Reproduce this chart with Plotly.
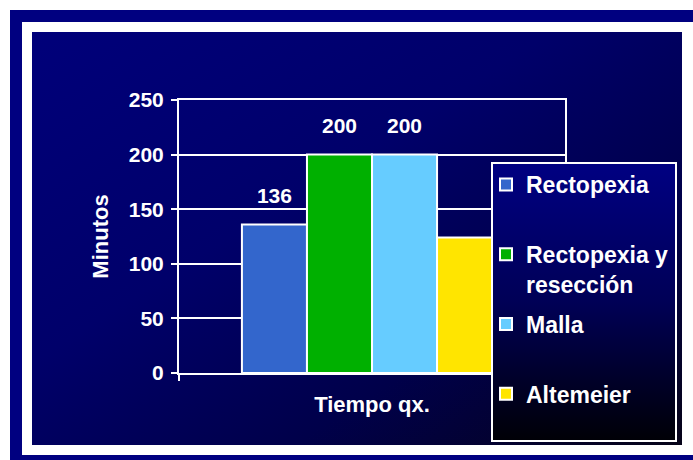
import base64
import plotly.graph_objects as go

# Surgical time by technique (minutes)
category = ["Tiempo qx."]
techniques = ["Rectopexia", "Rectopexia y resección", "Malla", "Altemeier"]
legend_names = ["Rectopexia<br>\u00a0", "Rectopexia y<br>resección", "Malla<br>\u00a0", "Altemeier"]
minutes = [136, 200, 200, 124]
show_label = [True, True, True, False]
colors = ["#3366cc", "#00b000", "#66ccff", "#ffe500"]
y_ticks = [0, 50, 100, 150, 200, 250]

W, H = 693, 460
L, R, T, B = 179, 128, 100, 87
PW, PH = W - L - R, H - T - B

FONT = "Arial, 'Liberation Sans', sans-serif"


def svg_uri(svg):
    return "data:image/svg+xml;base64," + base64.b64encode(svg.encode("utf-8")).decode("ascii")


# slide frame with the dark gradient panel
background_svg = f"""<svg xmlns='http://www.w3.org/2000/svg' width='{W}' height='{H}' viewBox='0 0 {W} {H}' preserveAspectRatio='none'>
<defs><linearGradient id='g' x1='0' y1='0' x2='1' y2='1'>
<stop offset='0' stop-color='#00007a'/>
<stop offset='0.4' stop-color='#00006a'/>
<stop offset='0.7' stop-color='#00004a'/>
<stop offset='1' stop-color='#060318'/>
</linearGradient></defs>
<rect x='10' y='10' width='720' height='480' fill='#000080'/>
<rect x='22' y='22' width='720' height='433' fill='#ffffff'/>
<rect x='32' y='32' width='650' height='413' fill='url(#g)'/>
</svg>"""

# legend box: vertical gradient with a white border
LX0, LY0, LX1, LY1 = 491, 162, 677, 442
lw, lh = LX1 - LX0, LY1 - LY0
legend_svg = f"""<svg xmlns='http://www.w3.org/2000/svg' width='{lw}' height='{lh}' viewBox='0 0 {lw} {lh}' preserveAspectRatio='none'>
<defs><linearGradient id='v' x1='0' y1='0' x2='0' y2='1'>
<stop offset='0' stop-color='#000082'/>
<stop offset='0.5' stop-color='#000056'/>
<stop offset='1' stop-color='#000006'/>
</linearGradient></defs>
<rect x='1' y='1' width='{lw - 2}' height='{lh - 2}' fill='url(#v)' stroke='#ffffff' stroke-width='2'/>
</svg>"""

fig = go.Figure()
for name, lname, val, show, col in zip(techniques, legend_names, minutes, show_label, colors):
    fig.add_trace(go.Bar(
        x=category, y=[val], name=lname, legendgroup=name,
        marker=dict(color=col, line=dict(color="white", width=2)),
        # value label with a small spacer line underneath to lift it off the bar
        texttemplate="<span style='font-size:21px'>%{y}</span><br>\u00a0" if show else "",
        textposition="outside",
        textfont=dict(family=FONT, size=12, color="white", weight="bold"),
        constraintext="none",
        cliponaxis=False,
        hovertemplate=name + ": %{y}<extra></extra>",
    ))

fig.update_layout(
    width=W, height=H, autosize=False,
    margin=dict(l=L, r=R, t=T, b=B, pad=0, autoexpand=False),
    paper_bgcolor="white",
    plot_bgcolor="rgba(0,0,0,0)",
    barmode="group", bargap=0.326, bargroupgap=0,
    font=dict(family=FONT, color="white", size=20, weight="bold"),
    showlegend=True,
    legend=dict(
        xref="container", yref="container",
        x=486 / W, y=1 - 163 / H, xanchor="left", yanchor="top",
        bgcolor="rgba(0,0,0,0)", borderwidth=0, maxheight=320,
        font=dict(family=FONT, size=23, color="white", weight="bold"),
        tracegroupgap=7, valign="top",
    ),
    images=[
        dict(source=svg_uri(background_svg), xref="paper", yref="paper",
             x=-L / PW, y=1 + T / PH, sizex=W / PW, sizey=H / PH,
             xanchor="left", yanchor="top", sizing="stretch", layer="below"),
        dict(source=svg_uri(legend_svg), xref="paper", yref="paper",
             x=(LX0 - L) / PW, y=(H - B - LY0) / PH, sizex=lw / PW, sizey=lh / PH,
             xanchor="left", yanchor="top", sizing="stretch", layer="above"),
    ],
    xaxis=dict(
        type="category", showline=True, linecolor="white", linewidth=2, mirror=True,
        ticks="outside", tickson="boundaries", ticklen=6, tickwidth=2, tickcolor="white",
        tickfont=dict(family=FONT, size=22, color="white", weight="bold"),
        ticklabelstandoff=11, showgrid=False, zeroline=False, fixedrange=True,
    ),
    yaxis=dict(
        range=[0, 250], tickvals=y_ticks, showline=True, linecolor="white", linewidth=2,
        mirror=True, ticks="outside", ticklen=6, tickwidth=2, tickcolor="white",
        showgrid=True, gridcolor="white", gridwidth=2, zeroline=False,
        tickfont=dict(family=FONT, size=21, color="white", weight="bold"),
        ticklabelstandoff=3, fixedrange=True,
        title=dict(text="Minutos", standoff=14,
                   font=dict(family=FONT, size=22, color="white", weight="bold")),
    ),
)

fig.write_html("out.html")
